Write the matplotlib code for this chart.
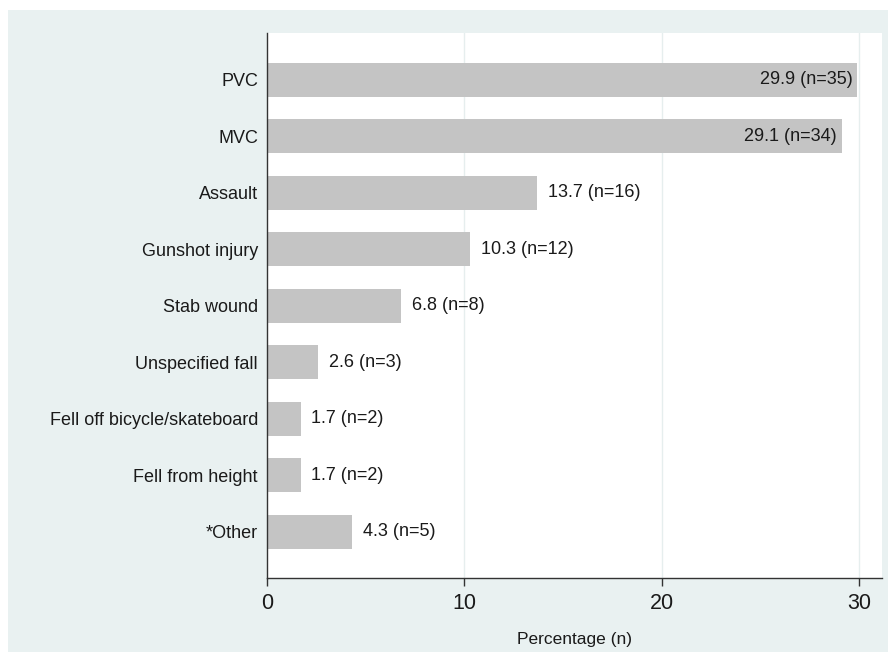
import matplotlib
matplotlib.use("Agg")
import matplotlib.pyplot as plt
from matplotlib.patches import Rectangle

plt.rcParams['font.family'] = ['Liberation Sans', 'DejaVu Sans']

categories = ["PVC", "MVC", "Assault", "Gunshot injury", "Stab wound",
              "Unspecified fall", "Fell off bicycle/skateboard",
              "Fell from height", "*Other"]
percent = [29.9, 29.1, 13.7, 10.3, 6.8, 2.6, 1.7, 1.7, 4.3]
counts = [35, 34, 16, 12, 8, 3, 2, 2, 5]
xticks = [0, 10, 20, 30]

bg = "#e9f1f1"
fig = plt.figure(figsize=(8.94, 6.56), dpi=100, facecolor="white")
fig.patches.append(Rectangle((8/894, 1 - 652/656), 880/894, 642/656,
                             transform=fig.transFigure, facecolor=bg,
                             edgecolor="none", zorder=-10))

ax = fig.add_axes([267/894, 1 - 578/656, (882 - 267)/894, (578 - 33)/656])
ax.set_facecolor("white")

ypos = list(range(len(categories)))
ax.barh(ypos, percent, height=0.6, color="#c4c4c4", zorder=2)
ax.set_ylim(len(categories) - 1 + 0.82, -0.83)
ax.set_xlim(0, 31.15)

for y, p, n in zip(ypos, percent, counts):
    label = f"{p:.1f} (n={n})"
    if p > 20:
        ax.text(p - 0.25, y, label, ha="right", va="center", fontsize=13,
                color="#1a1a1a", zorder=3)
    else:
        ax.text(p + 0.55, y, label, ha="left", va="center", fontsize=13,
                color="#1a1a1a", zorder=3)

ax.set_yticks(ypos)
ax.set_yticklabels(categories, fontsize=13, color="#1a1a1a")
ax.tick_params(axis="y", length=0, pad=6.5)
ax.set_xticks(xticks)
ax.set_xticklabels([str(t) for t in xticks], fontsize=15.5, color="#1a1a1a")
ax.tick_params(axis="x", length=6, width=1, color="#333333", pad=5)

for t in xticks[1:]:
    ax.axvline(t, color="#e6eeee", lw=1, zorder=1)

for s in ["top", "right"]:
    ax.spines[s].set_visible(False)
for s in ["left", "bottom"]:
    ax.spines[s].set_color("#333333")
    ax.spines[s].set_linewidth(1)

ax.set_xlabel("Percentage (n)", fontsize=12.5, color="#1a1a1a", labelpad=13)

fig.savefig("out.png", dpi=100, facecolor="white")
